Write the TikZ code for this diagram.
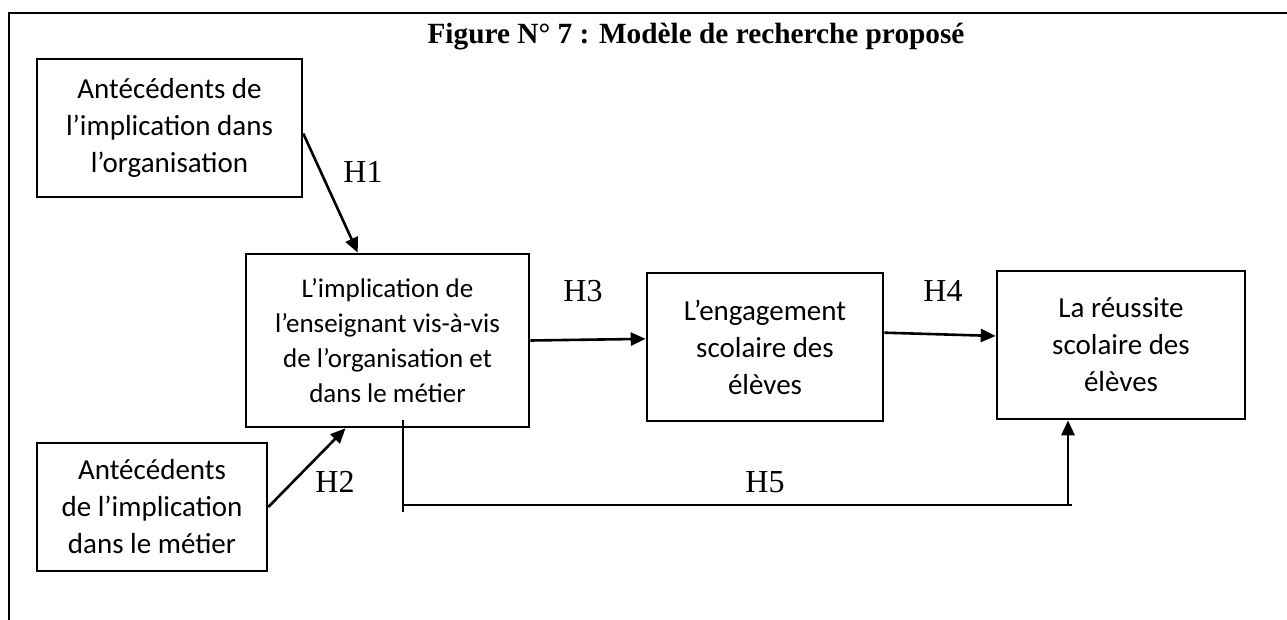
\documentclass[tikz,border=0pt]{standalone}
\usepackage{fontspec}
\setmainfont{Carlito}
\newfontfamily\timesfont{Liberation Serif}
\usetikzlibrary{arrows.meta,calc}

\begin{document}
\begin{tikzpicture}[x=1pt,y=-1pt]
	\tikzset{box/.style = {draw,line width=2.6pt,align=center,inner sep=0pt,font=\fontsize{29}{37}\selectfont}}
	\tikzstyle{edge} = [-{Triangle[length=15pt,width=13pt]},line width=2.6pt]
	\tikzstyle{edgeThin} = [line width=1.3pt]
	\tikzstyle{hyp} = [font=\timesfont\fontsize{32}{34}\selectfont,inner sep=0pt]
	\useasboundingbox (0,0) rectangle (1287,620);
	%frame and title
	\draw[line width=2.6pt] (9,620) -- (9,13) -- (1287,13);
	\node[font=\timesfont\bfseries\fontsize{29.3}{34}\selectfont] (title) at (696,37) {Figure N° 7 : Modèle de recherche proposé};
	%boxes
	\node[box,minimum width=265pt,minimum height=138pt] (A) at (169.5,128) {Antécédents de\\l’implication dans\\l’organisation};
	\node[box,minimum width=230pt,minimum height=128pt] (B) at (152,507) {Antécédents\\de l’implication\\dans le métier};
	\node[box,minimum width=283pt,minimum height=173pt,font=\fontsize{27}{35}\selectfont] (C) at (387.5,340.5) {L’implication de\\l’enseignant vis-à-vis\\de l’organisation et\\dans le métier};
	\node[box,minimum width=236pt,minimum height=148pt] (D) at (765,347) {L’engagement\\scolaire des\\élèves};
	\node[box,minimum width=248pt,minimum height=148pt] (E) at (1121,345) {La réussite\\scolaire des\\élèves};
	%hypotheses
	\node[hyp] (H1) at (363,172) {H1};
	\node[hyp] (H2) at (335,482) {H2};
	\node[hyp] (H3) at (583,291) {H3};
	\node[hyp] (H4) at (943,291) {H4};
	\node[hyp] (H5) at (765,482) {H5};
	%links
	\draw[edge] ($(A.north east)!0.54!(A.south east)$) to ($(C.north west)!0.396!(C.north east)$);
	\draw[edge] (B.east) to ($(C.south west)!0.353!(C.south east)$);
	\draw[edge] (C.east) to ($(D.north west)!0.446!(D.south west)$);
	\draw[edge] ($(D.north east)!0.405!(D.south east)$) to ($(E.north west)!0.44!(E.south west)$);
	%H5 path
	\coordinate (h5top) at (403,420);
	\coordinate (h5bot) at (403,512);
	\coordinate (h5end) at (1068,505);
	\draw[edgeThin] (h5top) -- (h5bot);
	\draw[edgeThin] (h5top |- h5end) -- ([xshift=4pt]h5end);
	\draw[edge] (h5end) to (E.south -| h5end);
\end{tikzpicture}
\end{document}
